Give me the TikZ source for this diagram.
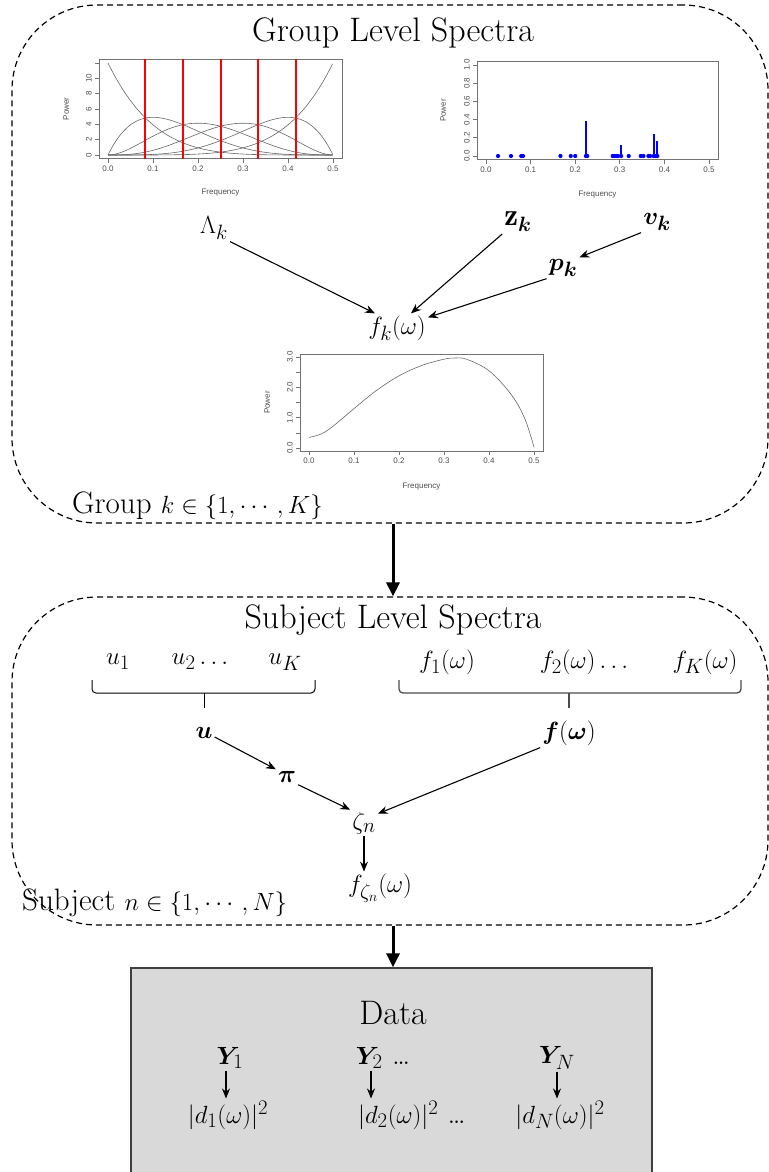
\documentclass[tikz,border=0pt]{standalone}
\usepackage{amsmath}
\usepackage{bm}
\usepackage{fontspec}
\usetikzlibrary{arrows.meta}
\newfontfamily\plotfont{Liberation Sans}
\definecolor{datafill}{HTML}{D9D9D9}
\definecolor{databord}{HTML}{404040}
\definecolor{vred}{HTML}{FF0000}
\definecolor{sblue}{HTML}{0000FF}
\begin{document}
\begin{tikzpicture}[x=1pt,y=-1pt,
  grpbox/.style={draw, dash pattern=on 6pt off 4pt, line width=1.2pt, rounded corners=85pt, inner sep=0pt},
  datbox/.style={draw=databord, fill=datafill, line width=1.3pt, inner sep=0pt},
  ttl/.style={font=\fontsize{34}{38}\selectfont, inner sep=1pt},
  lbl/.style={font=\fontsize{31}{34}\selectfont, inner sep=2pt},
  arr/.style={-{Stealth[length=10pt,width=8pt]}, line width=1.1pt},
  bigarr/.style={-{Triangle[length=14pt,width=13pt]}, line width=3pt},
  axgray/.style={draw=black!55, line width=0.7pt},
  ticklbl/.style={font=\plotfont\fontsize{8}{9}\selectfont, text=black!70, inner sep=1pt},
  brc/.style={line width=1pt, rounded corners=4pt},
  curve/.style={draw=black!60, line width=0.6pt},
  redline/.style={draw=vred, line width=2pt},
  spike/.style={draw=sblue, line width=2pt}
]
\useasboundingbox (0,0) rectangle (768,1172);

% ---------------- boxes ----------------
\node[grpbox, minimum width=756pt, minimum height=518pt] (grp) at (390,264) {};
\node[grpbox, minimum width=756pt, minimum height=328pt] (subj) at (390,761) {};
\node[datbox, minimum width=521pt, minimum height=222pt] (data) at (391.5,1079) {};

\draw[bigarr] ([xshift=3pt]grp.south) -- ([xshift=3pt]subj.north);
\draw[bigarr] ([xshift=3pt]subj.south) -- ([xshift=3pt]subj.south |- data.north);

% ---------------- group level ----------------
\node[ttl] (gtitle) at (393,33) {Group Level Spectra};

% plot 1: basis functions
\begin{scope}[shift={(108,155)},x=450pt,y=7.67pt]
  \draw[axgray] (-0.02,-0.48) rectangle (0.52,12.48);
  \foreach \t/\l in {0/0.0,0.1/0.1,0.2/0.2,0.3/0.3,0.4/0.4,0.5/0.5}
    \draw[axgray] (\t,-0.48) -- ++(0pt,-4pt) node[ticklbl,below=2pt]{\l};
  \foreach \v/\l in {0/0,2/2,4/4,6/6,8/8,10/10,12/{}}
    \draw[axgray] (-0.02,\v) -- ++(-4pt,0pt) node[ticklbl,rotate=90,anchor=south,yshift=2pt]{\l};
  \draw[curve] plot[domain=0:0.5,samples=70,smooth] (\x,{12*(1-2*\x)^5});
  \draw[curve] plot[domain=0:0.5,samples=70,smooth] (\x,{60*(2*\x)*(1-2*\x)^4});
  \draw[curve] plot[domain=0:0.5,samples=70,smooth] (\x,{120*(2*\x)^2*(1-2*\x)^3});
  \draw[curve] plot[domain=0:0.5,samples=70,smooth] (\x,{120*(2*\x)^3*(1-2*\x)^2});
  \draw[curve] plot[domain=0:0.5,samples=70,smooth] (\x,{60*(2*\x)^4*(1-2*\x)});
  \draw[curve] plot[domain=0:0.5,samples=70,smooth] (\x,{12*(2*\x)^5});
  \draw[redline] (0.08333,-0.48) -- (0.08333,12.48);
  \draw[redline] (0.16667,-0.48) -- (0.16667,12.48);
  \draw[redline] (0.25,-0.48) -- (0.25,12.48);
  \draw[redline] (0.33333,-0.48) -- (0.33333,12.48);
  \draw[redline] (0.41667,-0.48) -- (0.41667,12.48);
  \node[ticklbl,rotate=90] (pw1) at (-0.093,6) {Power};
  \node[ticklbl] (fq1) at (0.25,-4.95) {Frequency};
\end{scope}

% plot 2: spikes
\begin{scope}[shift={(486,156)},x=446pt,y=91pt]
  \draw[axgray] (-0.02,-0.04) rectangle (0.52,1.04);
  \foreach \t/\l in {0/0.0,0.1/0.1,0.2/0.2,0.3/0.3,0.4/0.4,0.5/0.5}
    \draw[axgray] (\t,-0.04) -- ++(0pt,-4pt) node[ticklbl,below=2pt]{\l};
  \foreach \v/\l in {0/0.0,0.2/0.2,0.4/0.4,0.6/0.6,0.8/0.8,1/1.0}
    \draw[axgray] (-0.02,\v) -- ++(-4pt,0pt) node[ticklbl,rotate=90,anchor=south,yshift=2pt]{\l};
  \draw[spike] (0.079,0) -- (0.079,0.02);
  \draw[spike] (0.167,0) -- (0.167,0.02);
  \draw[spike] (0.224,0) -- (0.224,0.38);
  \draw[spike] (0.303,0) -- (0.303,0.12);
  \draw[spike] (0.376,0) -- (0.376,0.24);
  \draw[spike] (0.383,0) -- (0.383,0.17);
  \foreach \p in {0.027,0.056,0.079,0.083,0.167,0.19,0.2,0.224,0.227,0.284,0.288,0.292,0.296,0.303,0.32,0.347,0.353,0.364,0.368,0.376,0.38,0.384}
    \fill[sblue] (\p,0) circle (2.1pt);
  \node[ticklbl,rotate=90] (pw2) at (-0.096,0.5) {Power};
  \node[ticklbl] (fq2) at (0.25,-0.42) {Frequency};
\end{scope}

% labels and arrows
\node[lbl] (lam) at (214,228) {$\Lambda_k$};
\node[lbl] (z) at (518,222) {$\mathbf{z}_{\bm{k}}$};
\node[lbl] (v) at (657,222) {$\bm{v}_{\bm{k}}$};
\node[lbl] (p) at (563,268) {$\bm{p}_{\bm{k}}$};
\node[lbl] (fk) at (397,328) {$f_k(\omega)$};
\draw[arr] (lam.south east) -- ([xshift=-22pt]fk.north);
\draw[arr] (z.south west) -- ([xshift=14pt]fk.north);
\draw[arr] (v.south west) -- (p.north east);
\draw[arr] (p.south west) -- ([yshift=-4pt]fk.north east);

% plot 3: resulting spectrum
\begin{scope}[shift={(309,448)},x=450pt,y=30.3pt]
  \draw[axgray] (-0.02,-0.1) rectangle (0.52,3.09);
  \foreach \t/\l in {0/0.0,0.1/0.1,0.2/0.2,0.3/0.3,0.4/0.4,0.5/0.5}
    \draw[axgray] (\t,-0.1) -- ++(0pt,-4pt) node[ticklbl,below=2pt]{\l};
  \foreach \v/\l in {0/0.0,0.5/{},1/1.0,1.5/{},2/2.0,2.5/{},3/3.0}
    \draw[axgray] (-0.02,\v) -- ++(-4pt,0pt) node[ticklbl,rotate=90,anchor=south,yshift=2pt]{\l};
  \draw[curve] plot[smooth,tension=0.6] coordinates {(0,0.35) (0.025,0.45) (0.05,0.68) (0.1,1.3) (0.15,1.9) (0.2,2.38) (0.25,2.72) (0.3,2.93) (0.325,2.97) (0.35,2.93) (0.4,2.55) (0.45,1.75) (0.48,0.95) (0.5,0.02)};
  \node[ticklbl,rotate=90] (pw3) at (-0.093,1.5) {Power};
  \node[ticklbl] (fq3) at (0.25,-1.28) {Frequency};
\end{scope}

\node[lbl, anchor=west] (grpk) at (70,506) {Group $k\in\{1,\cdots,K\}$};

% ---------------- subject level ----------------
\node[ttl] (stitle) at (393,620) {Subject Level Spectra};
\node[lbl] (u1) at (118,662) {$u_1$};
\node[lbl] (u2) at (200,662) {$u_2\ldots$};
\node[lbl] (uK) at (285,662) {$u_K$};
\node[lbl] (f1) at (447,662) {$f_1(\omega)$};
\node[lbl] (f2) at (584,662) {$f_2(\omega)\ldots$};
\node[lbl] (fK) at (705,662) {$f_K(\omega)$};

\draw[brc] (92,680) -- (92,693) -- (315,693) -- (315,680);
\draw[line width=1pt] (204,693) -- (204,708);
\draw[brc, draw=black!70, line width=1.3pt] (399,680) -- (399,693) -- (741,693) -- (741,680);
\draw[draw=black!70, line width=1.3pt] (569,693) -- (569,708);

\node[lbl] (u) at (204,733) {$\bm{u}$};
\node[lbl] (pi) at (287,777) {$\bm{\pi}$};
\node[lbl] (fw) at (569,733) {$\bm{f}(\bm{\omega})$};
\node[lbl] (zeta) at (364,823) {$\zeta_n$};
\node[lbl] (fz) at (380,888) {$f_{\zeta_n}(\omega)$};

\draw[arr] ([yshift=-4pt]u.east) -- (pi.north west);
\draw[arr] (pi.south east) -- (zeta.north west);
\draw[arr] (fw.south west) -- ([yshift=-4pt]zeta.north east);
\draw[arr] (zeta.south) -- (zeta.south |- fz.north);

\node[lbl, anchor=west] (subjn) at (20,903) {Subject $n\in\{1,\cdots,N\}$};

% ---------------- data ----------------
\node[ttl] (dtitle) at (393,1013) {Data};
\node[lbl] (y1) at (230,1058) {$\bm{Y}_1$};
\node[lbl] (y2) at (383,1058) {$\bm{Y}_2$ \ldots};
\node[lbl] (yN) at (557,1058) {$\bm{Y}_N$};
\node[lbl] (d1) at (228,1115) {$|d_1(\omega)|^2$};
\node[lbl] (d2) at (412,1115) {$|d_2(\omega)|^2$ \ldots};
\node[lbl] (dN) at (560,1115) {$|d_N(\omega)|^2$};
\draw[arr] ([xshift=-4pt]y1.south) -- ([xshift=-4pt]y1.south |- d1.north);
\draw[arr] ([xshift=-12pt]y2.south) -- ([xshift=-12pt]y2.south |- d2.north);
\draw[arr] (yN.south) -- (yN.south |- dN.north);
\end{tikzpicture}
\end{document}
